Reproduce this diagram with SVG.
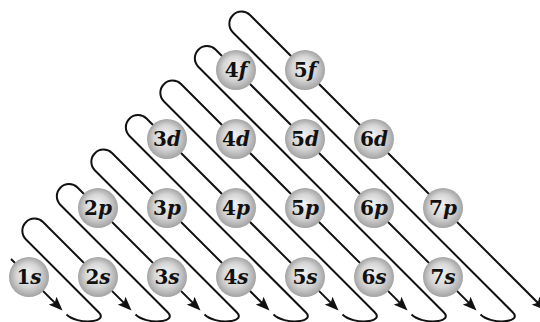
<svg xmlns="http://www.w3.org/2000/svg" width="540" height="322" viewBox="0 0 540 322">
<style>
.ln{fill:none;stroke:#111;stroke-width:2;stroke-linejoin:round}
.orb circle{fill:url(#ball)}
.orb text{font-family:"DejaVu Serif","Liberation Serif",serif;font-weight:bold;font-size:20px;fill:#111;text-anchor:middle}
.l{font-style:italic}
</style>
<defs>
<radialGradient id="ball" cx="0.5" cy="0.5" r="0.5" fx="0.45" fy="0.38">
<stop offset="0" stop-color="#f3f3f3"/>
<stop offset="0.6" stop-color="#d5d5d5"/>
<stop offset="1" stop-color="#a3a3a3"/>
</radialGradient>
<marker id="ah" viewBox="0 0 14 11" refX="11" refY="5.5" markerWidth="14" markerHeight="11" markerUnits="userSpaceOnUse" orient="auto">
<path d="M0,0 L14,5.5 L0,11 L3,5.5 z" fill="#111"/>
</marker>
</defs>
<g id="connectors">
<path class="ln" marker-end="url(#ah)" d="M11,259 L60.4,308.4"/>
<path class="ln" marker-end="url(#ah)" d="M66.5,314.5 C77.1,325.1 109.3,322.8 98.7,312.2 L25.75,239.25 A12.2,12.2 0 0 1 43,222 L129.4,308.4"/>
<path class="ln" marker-end="url(#ah)" d="M135.5,314.5 C146.1,325.1 178.3,322.8 167.7,312.2 L60.25,204.75 A12.2,12.2 0 0 1 77.5,187.5 L198.4,308.4"/>
<path class="ln" marker-end="url(#ah)" d="M204.5,314.5 C215.1,325.1 247.3,322.8 236.7,312.2 L94.75,170.25 A12.2,12.2 0 0 1 112,153 L267.4,308.4"/>
<path class="ln" marker-end="url(#ah)" d="M273.5,314.5 C284.1,325.1 316.3,322.8 305.7,312.2 L129.25,135.75 A12.2,12.2 0 0 1 146.5,118.5 L336.4,308.4"/>
<path class="ln" marker-end="url(#ah)" d="M342.5,314.5 C353.1,325.1 385.3,322.8 374.7,312.2 L163.75,101.25 A12.2,12.2 0 0 1 181,84 L405.4,308.4"/>
<path class="ln" marker-end="url(#ah)" d="M411.5,314.5 C422.1,325.1 454.3,322.8 443.7,312.2 L198.25,66.75 A12.2,12.2 0 0 1 215.5,49.5 L474.4,308.4"/>
<path class="ln" marker-end="url(#ah)" d="M480.5,314.5 C491.1,325.1 523.3,322.8 512.7,312.2 L232.75,32.25 A12.2,12.2 0 0 1 250,15 L543.4,308.4"/>
</g>
<g id="n1s" class="orb"><circle cx="29" cy="277" r="20"/><text x="29" y="284">1<tspan class="l">s</tspan></text></g>
<g id="n2s" class="orb"><circle cx="98" cy="277" r="20"/><text x="98" y="284">2<tspan class="l">s</tspan></text></g>
<g id="n3s" class="orb"><circle cx="167" cy="277" r="20"/><text x="167" y="284">3<tspan class="l">s</tspan></text></g>
<g id="n4s" class="orb"><circle cx="236" cy="277" r="20"/><text x="236" y="284">4<tspan class="l">s</tspan></text></g>
<g id="n5s" class="orb"><circle cx="305" cy="277" r="20"/><text x="305" y="284">5<tspan class="l">s</tspan></text></g>
<g id="n6s" class="orb"><circle cx="374" cy="277" r="20"/><text x="374" y="284">6<tspan class="l">s</tspan></text></g>
<g id="n7s" class="orb"><circle cx="443" cy="277" r="20"/><text x="443" y="284">7<tspan class="l">s</tspan></text></g>
<g id="n2p" class="orb"><circle cx="98" cy="208" r="20"/><text x="98" y="215">2<tspan class="l">p</tspan></text></g>
<g id="n3p" class="orb"><circle cx="167" cy="208" r="20"/><text x="167" y="215">3<tspan class="l">p</tspan></text></g>
<g id="n4p" class="orb"><circle cx="236" cy="208" r="20"/><text x="236" y="215">4<tspan class="l">p</tspan></text></g>
<g id="n5p" class="orb"><circle cx="305" cy="208" r="20"/><text x="305" y="215">5<tspan class="l">p</tspan></text></g>
<g id="n6p" class="orb"><circle cx="374" cy="208" r="20"/><text x="374" y="215">6<tspan class="l">p</tspan></text></g>
<g id="n7p" class="orb"><circle cx="443" cy="208" r="20"/><text x="443" y="215">7<tspan class="l">p</tspan></text></g>
<g id="n3d" class="orb"><circle cx="167" cy="139" r="20"/><text x="167" y="146">3<tspan class="l">d</tspan></text></g>
<g id="n4d" class="orb"><circle cx="236" cy="139" r="20"/><text x="236" y="146">4<tspan class="l">d</tspan></text></g>
<g id="n5d" class="orb"><circle cx="305" cy="139" r="20"/><text x="305" y="146">5<tspan class="l">d</tspan></text></g>
<g id="n6d" class="orb"><circle cx="374" cy="139" r="20"/><text x="374" y="146">6<tspan class="l">d</tspan></text></g>
<g id="n4f" class="orb"><circle cx="236" cy="70" r="20"/><text x="236" y="77">4<tspan class="l">f</tspan></text></g>
<g id="n5f" class="orb"><circle cx="305" cy="70" r="20"/><text x="305" y="77">5<tspan class="l">f</tspan></text></g>
</svg>
